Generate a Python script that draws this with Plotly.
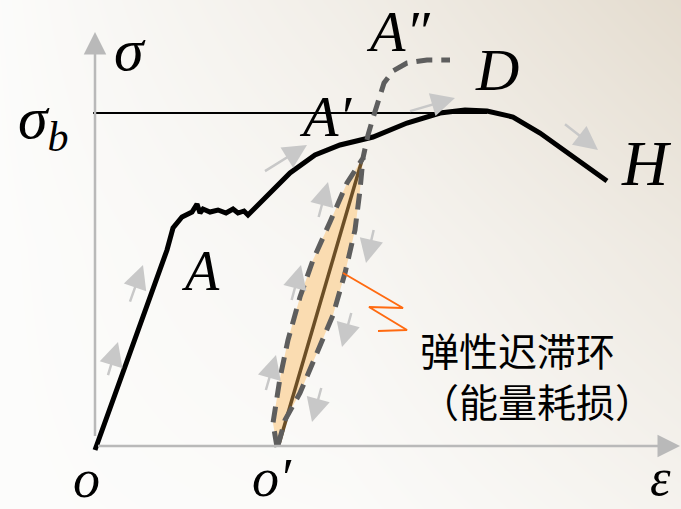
import plotly.graph_objects as go

# ---- data (strain, stress) in diagram units, origin o at (0,0) ----
curve_eps = [0, 72, 78, 87, 97, 102, 105, 108, 115, 123, 131, 138, 143, 149, 153,
             175, 195, 220, 245, 278, 312, 345, 370, 392, 418, 445, 478, 512]
curve_sig = [-4, 196, 218, 229, 234, 242, 233, 237, 234, 236, 233, 237, 233, 235, 231,
             253, 273, 291, 301, 309, 323, 333, 336, 335, 329, 313, 289, 265]

sigma_b = 333
sigma_b_eps = [-2, 392]

loop_left_eps = [182, 178, 185, 193, 205, 218, 235, 252, 268]
loop_left_sig = [-1, 23, 68, 106, 149, 186, 224, 263, 288]
loop_right_eps = [183, 190, 205, 223, 238, 250, 260, 265, 268]
loop_right_sig = [1, 26, 53, 95, 131, 173, 216, 256, 288]
reload_eps = [268, 273, 278, 283, 289, 298, 312, 332, 355]
reload_sig = [288, 311, 328, 346, 363, 375, 383, 386, 386]
elastic_eps = [184, 267]
elastic_sig = [2, 286]

callout_eps = [248, 308, 274, 312, 283]
callout_sig = [173, 138, 139, 116, 115]

# direction arrows: (tail_eps, tail_sig, tip_eps, tip_sig)
arrows = [
    (10, 61, 23, 104), (32, 136, 48, 181), (167, 273, 212, 301),
    (312, 334, 360, 348), (467, 324, 503, 296),
    (168, 46, 181, 91), (194, 136, 206, 181), (221, 219, 233, 264),
    (281, 226, 271, 183), (259, 143, 247, 99), (229, 68, 217, 24),
]
axis_x_end = 585
axis_y_end = 414

labels = [  # text, eps, sig, size, xanchor
    ("<i>σ</i>", 35, 396, 60, "center"),
    ("<i>σ</i><sub><i>b</i></sub>", -52, 324, 60, "center"),
    ("<i>A′</i>", 230, 330, 58, "center"),
    ("<i>A″</i>", 303, 415, 58, "center"),
    ("<i>D</i>", 402, 376, 60, "center"),
    ("<i>H</i>", 551, 283, 64, "center"),
    ("<i>A</i>", 105, 175, 56, "center"),
    ("<i>o</i>", -9, -33, 54, "center"),
    ("<i>o′</i>", 177, -32, 54, "center"),
    ("<i>ε</i>", 578, -31, 52, "right"),
]
cn_text = "弹性迟滞环<br>（能量耗损）"

X_RANGE = [-95, 586]
Y_RANGE = [-63, 446]

fig = go.Figure()

# background gradient (beige towards top-right)
fig.add_trace(go.Heatmap(
    x=[-95, 250, 586], y=[-63, 200, 446],
    z=[[0, 0.05, 0.3], [0, 0.2, 0.6], [0.02, 0.45, 1.0]],
    zsmooth="best", showscale=False, hoverinfo="skip",
    colorscale=[[0, "#FCFCFB"], [1, "#E4DCCF"]], zmin=0, zmax=1,
))

# hysteresis fill
fig.add_trace(go.Scatter(
    x=loop_left_eps + loop_right_eps[::-1], y=loop_left_sig + loop_right_sig[::-1],
    mode="lines", fill="toself", fillcolor="rgba(250,215,165,0.85)",
    line=dict(width=0), hoverinfo="skip"))

# elastic center line
fig.add_trace(go.Scatter(x=elastic_eps, y=elastic_sig, mode="lines",
                         line=dict(color="#6B4E26", width=3.5), hoverinfo="skip"))

# sigma_b line
fig.add_trace(go.Scatter(x=sigma_b_eps, y=[sigma_b, sigma_b], mode="lines",
                         line=dict(color="black", width=2), hoverinfo="skip"))

# main curve
fig.add_trace(go.Scatter(x=curve_eps, y=curve_sig, mode="lines",
                         line=dict(color="black", width=5), hoverinfo="skip"))

# dashed loop boundaries and reload branch
dash_style = dict(color="#5E5E5E", width=5, dash="16px,9px")
fig.add_trace(go.Scatter(x=loop_left_eps + reload_eps[1:], y=loop_left_sig + reload_sig[1:],
                         mode="lines", line=dash_style, hoverinfo="skip"))
fig.add_trace(go.Scatter(x=loop_right_eps, y=loop_right_sig,
                         mode="lines", line=dash_style, hoverinfo="skip"))

# orange callout
fig.add_trace(go.Scatter(x=callout_eps, y=callout_sig, mode="lines",
                         line=dict(color="#FF6A10", width=2), hoverinfo="skip"))

ann = []
# axes arrows
for (tx, ty) in [(0, axis_y_end), (axis_x_end, 0)]:
    ann.append(dict(x=tx, y=ty, ax=0, ay=0, xref="x", yref="y", axref="x", ayref="y",
                    showarrow=True, arrowhead=2, arrowsize=1.8, arrowwidth=2.5,
                    arrowcolor="#B9B9B9", text=" "))
for (x0, y0, x1, y1) in arrows:
    ann.append(dict(x=x1, y=y1, ax=x0, ay=y0, xref="x", yref="y", axref="x", ayref="y",
                    showarrow=True, arrowhead=2, arrowsize=1.9, arrowwidth=2.5,
                    arrowcolor="#C8C8C8", text=" "))
for (t, x, y, s, xa) in labels:
    ann.append(dict(x=x, y=y, xref="x", yref="y", text=t, showarrow=False, xanchor=xa,
                    font=dict(family="Liberation Serif, Times New Roman, serif", size=s, color="black")))
ann.append(dict(x=323, y=72, xref="x", yref="y", xanchor="left", align="left",
                text=cn_text, showarrow=False,
                font=dict(family="Noto Sans CJK SC", size=39, color="black")))

fig.update_layout(
    width=681, height=509, autosize=False,
    margin=dict(l=0, r=0, t=0, b=0),
    paper_bgcolor="white", plot_bgcolor="white",
    showlegend=False,
    xaxis=dict(range=X_RANGE, visible=False, fixedrange=True),
    yaxis=dict(range=Y_RANGE, visible=False, fixedrange=True),
    annotations=ann,
)
fig.write_html("out.html", config={"displayModeBar": False},
               post_script="document.body.style.margin='0';document.body.style.overflow='hidden';")
